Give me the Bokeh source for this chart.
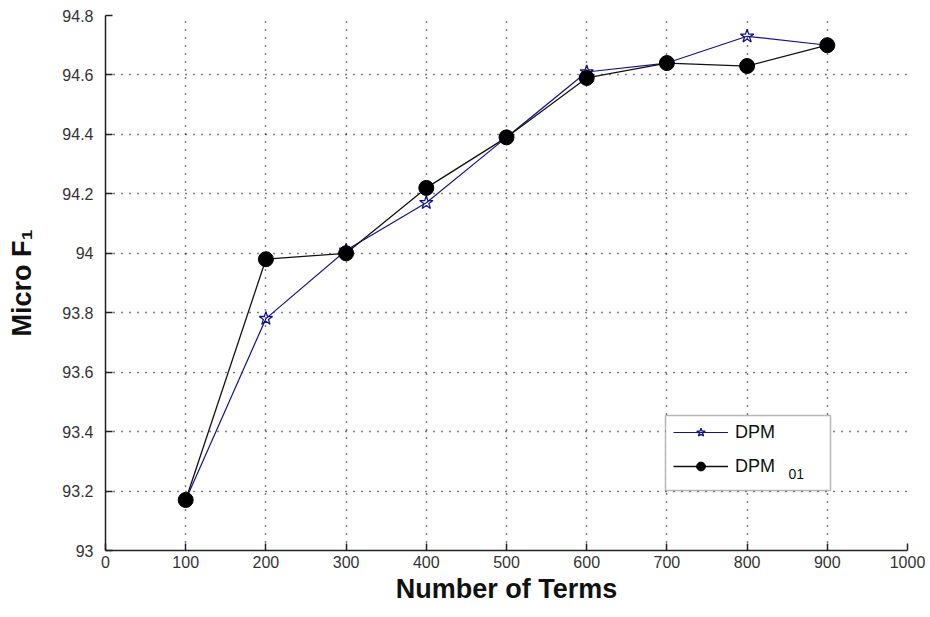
import math
from bokeh.plotting import figure
from bokeh.models import (ColumnDataSource, FixedTicker, CustomJSTickFormatter, Legend,
                          LegendItem, Label, Range1d, BoxAnnotation)
from bokeh.embed import file_html
from bokeh.resources import INLINE

# ---- data ----
terms = [100, 200, 300, 400, 500, 600, 700, 800, 900]
dpm = [93.17, 93.78, 94.01, 94.17, 94.39, 94.61, 94.64, 94.73, 94.70]
dpm01 = [93.17, 93.98, 94.00, 94.22, 94.39, 94.59, 94.64, 94.63, 94.70]
x_ticks = [0, 100, 200, 300, 400, 500, 600, 700, 800, 900, 1000]
y_ticks = [93.0, 93.2, 93.4, 93.6, 93.8, 94.0, 94.2, 94.4, 94.6, 94.8]
x_label = "Number of Terms"
y_label = "Micro F\u2081"
series_names = ["DPM", "DPM"]
legend_sub = "01"

W, H = 925, 610
p = figure(width=W, height=H, output_backend="svg", toolbar_location=None,
           x_range=Range1d(0, 1000), y_range=Range1d(93, 94.8),
           min_border_left=105, min_border_right=18, min_border_top=15, min_border_bottom=60)
p.outline_line_color = None
p.background_fill_color = "white"
p.border_fill_color = "white"

for ax in (p.xaxis[0], p.yaxis[0]):
    ax.axis_line_color = "#222222"
    ax.axis_line_width = 1.5
    ax.major_tick_line_color = "#222222"
    ax.major_tick_line_width = 1.5
    ax.major_tick_in = 7
    ax.major_tick_out = 0
    ax.minor_tick_line_color = None
    ax.major_label_text_font = "Liberation Sans"
    ax.major_label_text_font_size = "16px"
    ax.major_label_text_color = "#333333"
    ax.axis_label_text_font = "Liberation Sans"
    ax.axis_label_text_font_style = "bold"
    ax.axis_label_text_color = "#111111"

p.xaxis.ticker = FixedTicker(ticks=x_ticks)
p.yaxis.ticker = FixedTicker(ticks=y_ticks)
p.yaxis.formatter = CustomJSTickFormatter(code="return String(Math.round(tick*10)/10);")
p.xaxis.major_label_standoff = 5
p.yaxis.major_label_standoff = 12

p.xaxis.axis_label = x_label
p.xaxis.axis_label_text_font_size = "27px"
p.xaxis.axis_label_standoff = 3
p.yaxis.axis_label = y_label
p.yaxis.axis_label_text_font_size = "27px"
p.yaxis.axis_label_standoff = 22

for g in (p.xgrid[0], p.ygrid[0]):
    g.grid_line_color = "#000000"
    g.grid_line_width = 1.5
    g.grid_line_dash = "1 7"

src = ColumnDataSource(dict(x=terms, a=dpm, b=dpm01))
l1 = p.line("x", "a", source=src, line_color="#14148a", line_width=1.2)
s1 = p.scatter("x", "a", source=src, marker="star", size=14, fill_color=None,
               line_color="#14148a", line_width=1.3)
l2 = p.line("x", "b", source=src, line_color="#111111", line_width=1.3)
s2 = p.scatter("x", "b", source=src, marker="circle", size=15, fill_color="#000000",
               line_color="#000000")

# legend frame (white box with border) drawn separately so a subscript can sit on top
box = BoxAnnotation(left=560, right=725, bottom=60, top=135,
                    left_units="screen", right_units="screen",
                    bottom_units="screen", top_units="screen",
                    fill_color="white", fill_alpha=1.0,
                    line_color="#111111", line_width=1.5)
p.add_layout(box)

legend = Legend(items=[LegendItem(label=series_names[0], renderers=[l1, s1]),
                       LegendItem(label=series_names[1], renderers=[l2, s2])],
                location=(568, 73), orientation="vertical")
legend.label_text_font = "Liberation Sans"
legend.label_text_font_size = "18px"
legend.label_text_color = "#111111"
legend.glyph_width = 55
legend.glyph_height = 22
legend.label_height = 22
legend.label_width = 82
legend.label_standoff = 7
legend.padding = 8
legend.spacing = 12
legend.margin = 0
legend.border_line_color = None
legend.background_fill_alpha = 0.0
p.add_layout(legend, "center")

p.add_layout(Label(x=683, y=72, x_units="screen", y_units="screen", text=legend_sub,
                   text_font="Liberation Sans", text_font_size="14px", text_color="#111111"))

open("out.html", "w").write(file_html(p, INLINE))
